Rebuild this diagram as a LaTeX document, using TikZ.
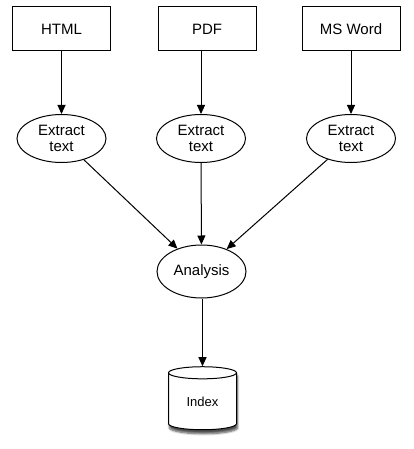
\documentclass[tikz,border=0pt]{standalone}
\usepackage{fontspec}
\setmainfont{Liberation Sans}
\usetikzlibrary{arrows.meta,shapes.geometric,shadows.blur}
\begin{document}
\begin{tikzpicture}[x=1pt,y=1pt,
  box/.style={draw,line width=1pt,minimum width=98pt,minimum height=44pt,inner sep=0pt,font=\fontsize{15}{17}\selectfont},
  oval/.style={draw,ellipse,line width=1pt,minimum width=89pt,minimum height=48pt,inner sep=0pt,align=center,font=\fontsize{15}{17}\selectfont},
  db/.style={draw,cylinder,shape border rotate=90,aspect=0.38,line width=1pt,minimum width=68pt,minimum height=63pt,inner sep=0pt,fill=white,font=\fontsize{13}{15}\selectfont,blur shadow={shadow xshift=1pt,shadow yshift=-4pt,shadow blur steps=6,shadow opacity=70}},
  arr/.style={-{Triangle[length=9pt,width=8pt]},line width=1pt}]
\useasboundingbox (0,0) rectangle (414,-449);
\node[box] (b1) at (61.5,-29) {HTML};
\node[box] (b2) at (207,-29) {PDF};
\node[box] (b3) at (351,-29) {MS Word};
\node[oval] (e1) at (61.5,-138.5) {Extract\\[-1pt]text};
\node[oval] (e2) at (201,-138.5) {Extract\\[-1pt]text};
\node[oval] (e3) at (351,-138.5) {Extract\\[-1pt]text};
\node[oval,minimum height=53pt] (an) at (201.5,-271.5) {Analysis};
\node[db] (ix) at (202.5,-401.5) {Index};
\draw[arr] (b1) -- (e1);
\draw[arr] (b2.south -| e2.north) -- (e2);
\draw[arr] (b3) -- (e3);
\draw[arr] (e1) -- (an);
\draw[arr] (e2) -- (an);
\draw[arr] (e3) -- (an);
\draw[arr] (an.south -| ix.north) -- (ix.north);
\end{tikzpicture}
\end{document}
